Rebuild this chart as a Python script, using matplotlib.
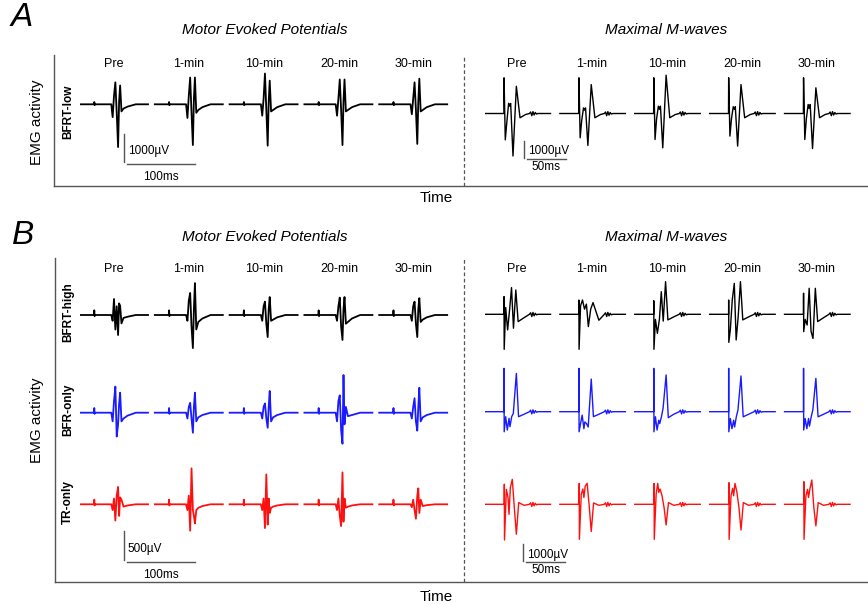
import matplotlib.pyplot as plt

plt.rcParams['font.family'] = ['Liberation Sans', 'DejaVu Sans']

W, H = 868, 605
cols = ['Pre', '1-min', '10-min', '20-min', '30-min']

# ---------------- MEP traces (ms, uV) ----------------
# vertex times shared by all MEP traces
mep_t = [0, 20.5, 21, 21.5, 22, 46, 48, 50, 52, 54, 56, 57.5, 59, 61, 64, 70, 82, 100]
stim_low = [80, -30]
stim_b = [80, -20]

# amplitudes at 48, 50, 52, 54, 56, 57.5, 59, 61, 64, 70 ms
mep_bfrt_low = [
    [-450, 300, 770, -300, -1500, 100, 660, -250, -150, -80],
    [-480, 300, 940, -300, -1430, 200, 940, -300, -200, -100],
    [-400, 200, 1080, -200, -1450, 100, 830, -250, -200, -100],
    [-400, 200, 870, -200, -1430, 100, 870, -250, -200, -100],
    [-350, 200, 770, -200, -1390, 100, 900, -250, -200, -100],
]
mep_bfrt_high = [
    [-100, 275, -250, 150, -345, 200, 160, -145, -50, -30],
    [-100, 250, 380, -200, -570, 100, 550, -250, -120, -60],
    [-100, 150, 230, -150, -380, 100, 310, -100, -80, -40],
    [-100, 150, 300, -200, -430, 100, 310, -150, -120, -60],
    [-100, 150, 230, -150, -380, 100, 290, -120, -80, -40],
]
mep_bfr_only = [
    [-150, 200, 450, -410, -200, 150, 345, -150, -100, -50],
    [-100, 100, 170, -100, -345, 100, 345, -150, -80, -40],
    [-100, 100, 160, -100, -260, 100, 375, -150, -80, -40],
    [-150, 200, 300, -300, -535, 650, -200, 100, -60, -40],
    [-100, 100, 250, -150, -310, 100, 430, -150, -80, -40],
]
mep_tr_only = [
    [-100, 100, -280, 150, 300, -200, 120, 80, -40, -20],
    [-100, 150, -455, 620, -100, -200, -330, -100, -60, -30],
    [-100, 100, -410, 515, -350, 100, -150, -60, -40, -20],
    [-100, 100, -200, -375, 550, -300, 100, -60, -40, -20],
    [-50, 80, -100, -250, 150, 275, -150, 80, -30, -15],
]

# ---------------- M-wave traces (ms, uV) ----------------
ripple_t = [57, 58.5, 60, 61.5, 63, 64.5, 66, 68]
ripple_v = [0, 90, -130, 110, -90, 60, -30, 0]
mw_end = 84

mw_t_low = [24.2, 24.4, 26, 28, 30.3, 31.6, 32.9, 35.9, 40.2, 44.9, 52]
mw_bfrt_low = [
    [0, 2100, -1550, -500, 600, 430, 590, -2500, 1600, -250, -60],
    [0, 2100, -1430, -400, 330, 200, 330, -1880, 1700, -250, -60],
    [0, 2100, -1530, -300, 430, 250, 430, -2020, 2250, -250, -60],
    [0, 2100, -1330, -300, 400, 250, 400, -1920, 1700, -250, -60],
    [0, 2100, -1530, -300, 530, 300, 530, -2060, 1510, -250, -60],
]
mw_t_high = [24.3, 24.4, 24.6, 26.5, 29, 31.6, 34, 36.5, 39.5, 42.5, 50]
mw_bfrt_high = [
    [0, 1040, -2060, 400, -920, 300, 1570, -820, 1430, -430, -200],
    [0, 840, -2060, 500, 840, 300, 600, -725, 300, 690, -350],
    [0, 800, -2060, -300, -1120, -300, 1330, -400, 1920, -330, -150],
    [0, 840, -1650, -920, 840, 1820, -1510, -200, 1920, -330, -150],
    [0, 1240, -1020, -300, -630, 1530, -1000, -1420, 1530, -430, -200],
]
mw_t_bfr = [24.3, 24.4, 24.6, 26.5, 28.6, 30.8, 32, 34.2, 36.3, 40.2, 43, 50]
mw_bfr_only = [
    [0, 2550, -1180, -294, -1080, -390, -880, -294, -100, 2250, -294, -150],
    [0, 2550, -1180, -700, -200, -1000, -600, -700, -900, 1920, -290, -150],
    [0, 2550, -1180, -294, -1080, -500, -700, -300, 200, 2160, -350, -150],
    [0, 2550, -1180, -400, -1000, -500, -900, -300, 100, 2100, -300, -150],
    [0, 2550, -1080, -400, -1000, -400, -850, -300, 100, 1960, -300, -150],
]
mw_t_tr = [24.6, 24.8, 25, 27.4, 29.5, 30.8, 32.5, 35, 37.6, 40.2, 43.2, 50]
mw_tr_only = [
    [0, 1180, -2100, 880, 400, -590, 980, 1470, -200, -1760, 100, -60],
    [0, 1230, -2060, 590, 900, 400, 1080, 1230, -100, -1600, 80, -60],
    [0, 1230, -2060, 600, 1230, 700, 900, 500, -200, -1215, 100, -60],
    [0, 1270, -2060, 500, 940, 500, 1230, 700, -200, -1510, 100, -60],
    [0, 1330, -2060, 500, 880, 400, 900, 1430, -200, -1270, 100, -60],
]

BLACK, BLUE, RED = '#000000', '#1a1aff', '#ff1010'
GREY = '#555555'

fig = plt.figure(figsize=(W / 100, H / 100), dpi=100)


def px_box(x0, y0, x1, y1):
    return [x0 / W, 1 - y1 / H, (x1 - x0) / W, (y1 - y0) / H]


def ftext(x, y, s, **kw):
    fig.text(x / W, 1 - y / H, s, **kw)


def trace_ax(x0, x1, base, top, bottom, px_ms, px_uv):
    ax = fig.add_axes(px_box(x0, top, x1, bottom))
    ax.set_xlim(0, (x1 - x0) / px_ms)
    ax.set_ylim(-(bottom - base) / px_uv, (base - top) / px_uv)
    ax.axis('off')
    ax.patch.set_alpha(0)
    return ax


def draw_mep(ax, data, stim, color, step=110):
    for i, core in enumerate(data):
        v = [0, 0, stim[0], stim[1], 0, 0] + core + [0, 0]
        ax.plot([t + i * step for t in mep_t], v, color=color, lw=1.3)


def draw_mw(ax, times, data, color, step=96):
    for i, core in enumerate(data):
        t = [0] + times + ripple_t + [mw_end]
        v = [0] + core + ripple_v + [0]
        ax.plot([x + i * step for x in t], v, color=color, lw=1.0)


def frame(x0, y0, x1, y1, xdash):
    ax = fig.add_axes(px_box(x0, y0, x1, y1))
    ax.set_xlim(x0, x1)
    ax.set_ylim(0, 1)
    for s in ['top', 'right']:
        ax.spines[s].set_visible(False)
    for s in ['left', 'bottom']:
        ax.spines[s].set_color(GREY)
        ax.spines[s].set_linewidth(1.0)
    ax.set_xticks([])
    ax.set_yticks([])
    ax.patch.set_alpha(0)
    ax.axvline(xdash, color=GREY, lw=0.9, ls=(0, (3, 2)))


def scale_bar(ax, x, y, dy, dx, gap, lab_v, lab_t, fs=8.5):
    ax.plot([x, x], [y, y - dy], color=GREY, lw=1.0)
    ax.plot([x + gap, x + gap + dx], [y - dy * 1.08, y - dy * 1.08], color=GREY, lw=1.0)
    ax.text(x + gap * 1.2, y - dy * 0.62, lab_v, fontsize=fs, va='center', ha='left')
    ax.text(x + gap + dx / 2, y - dy * 1.52, lab_t, fontsize=fs, va='center', ha='center')


# ---------------- panel A ----------------
frame(54, 55, 868, 186, 464)
ftext(22, 18, 'A', fontsize=24, style='italic', ha='center', va='center')
ftext(265, 30, 'Motor Evoked Potentials', fontsize=11, style='italic', ha='center', va='center')
ftext(666, 30, 'Maximal M-waves', fontsize=11, style='italic', ha='center', va='center')
ftext(37, 122, 'EMG activity', fontsize=11, rotation=90, ha='center', va='center')
ftext(436, 198, 'Time', fontsize=11, ha='center', va='center')
ftext(68, 112, 'BFRT-low', fontsize=8.5, weight='bold', rotation=90, ha='center', va='center')
for i, c in enumerate(cols):
    ftext(114 + 75 * i, 64, c, fontsize=9, ha='center', va='center')
    ftext(517 + 75 * i, 64, c, fontsize=9, ha='center', va='center')

axA1 = trace_ax(80, 460, 104.3, 40, 200, 0.68, 28.5 / 1000)
draw_mep(axA1, mep_bfrt_low, stim_low, BLACK)
scale_bar(axA1, 65.4, -1030, 1000, 100, 4.2, '1000\u00b5V', '100ms')

axA2 = trace_ax(485, 868, 113.5, 40, 200, 0.78, 17 / 1000)
draw_mw(axA2, mw_t_low, mw_bfrt_low, BLACK)
scale_bar(axA2, 49.6, -1600, 1000, 50, 4.2, '1000\u00b5V', '50ms')

# ---------------- panel B ----------------
frame(55, 258, 868, 582, 464)
ftext(23, 236, 'B', fontsize=24, style='italic', ha='center', va='center')
ftext(265, 237, 'Motor Evoked Potentials', fontsize=11, style='italic', ha='center', va='center')
ftext(666, 237, 'Maximal M-waves', fontsize=11, style='italic', ha='center', va='center')
ftext(37, 420, 'EMG activity', fontsize=11, rotation=90, ha='center', va='center')
ftext(436, 597, 'Time', fontsize=11, ha='center', va='center')
for i, c in enumerate(cols):
    ftext(114 + 75 * i, 269, c, fontsize=9, ha='center', va='center')
    ftext(517 + 75 * i, 269, c, fontsize=9, ha='center', va='center')

rows = [
    ('BFRT-high', 315, 314.3, 312, mep_bfrt_high, mw_t_high, mw_bfrt_high, BLACK),
    ('BFR-only', 412.7, 411.7, 410, mep_bfr_only, mw_t_bfr, mw_bfr_only, BLUE),
    ('TR-only', 504.3, 504.3, 502, mep_tr_only, mw_t_tr, mw_tr_only, RED),
]
for name, base_mep, base_mw, ylab, mep, mwt, mw, color in rows:
    ftext(68, ylab, name, fontsize=8.5, weight='bold', rotation=90, ha='center', va='center')
    ax1 = trace_ax(80, 460, base_mep, 262, 580, 0.68, 29 / 500)
    draw_mep(ax1, mep, stim_b, color)
    ax2 = trace_ax(485, 868, base_mw, 262, 580, 0.78, 17 / 1000)
    draw_mw(ax2, mwt, mw, color)

scale_bar(ax1, 64.7, -455, 500, 100, 4.5, '500\u00b5V', '100ms')
scale_bar(ax2, 48.7, -2335, 1000, 50, 4.2, '1000\u00b5V', '50ms')

fig.savefig('out.png', dpi=100)
